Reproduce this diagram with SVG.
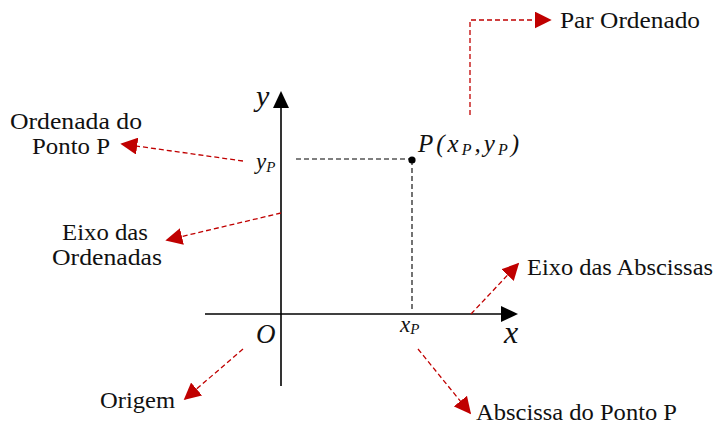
<svg xmlns="http://www.w3.org/2000/svg" width="717" height="428" viewBox="0 0 717 428">
<style>
.lbl{font-family:"Liberation Serif","Times New Roman",serif;font-size:23px;fill:#111}
.m{font-family:"Liberation Serif","Times New Roman",serif;font-style:italic;fill:#111}
.red{stroke:#c00000;stroke-width:1.3;stroke-dasharray:5,3;fill:none}
.ax{stroke:#000;stroke-width:1.6;fill:none}
.guide{stroke:#000;stroke-width:1.1;stroke-dasharray:5,3;fill:none}
</style>
<defs>
<marker id="ra" viewBox="0 0 10 10" refX="9" refY="5" markerWidth="17" markerHeight="17" markerUnits="userSpaceOnUse" orient="auto">
<path d="M0,0 L10,5 L0,10 z" fill="#c00000"/>
</marker>
</defs>
<g id="axes">
<line class="ax" x1="281" y1="386" x2="281" y2="106"/>
<polygon points="281,91 273,108 289,108" fill="#000"/>
<line class="ax" x1="205" y1="314" x2="503" y2="314"/>
<polygon points="518,314 501,306 501,322" fill="#000"/>
<line class="guide" x1="296" y1="159" x2="412" y2="159"/>
<line class="guide" x1="412" y1="160" x2="412" y2="312"/>
<circle cx="412" cy="160" r="3.6" fill="#000"/>
</g>
<g id="math-labels">
<text class="m" x="256" y="106" font-size="30">y</text>
<text class="m" x="256" y="169" font-size="23">y<tspan font-size="15" dy="3">P</tspan></text>
<text class="m" x="418" y="152" font-size="25" textLength="101" lengthAdjust="spacing">P(x<tspan font-size="16" dy="3">P</tspan><tspan dy="-3">,y</tspan><tspan font-size="16" dy="3">P</tspan><tspan dy="-3">)</tspan></text>
<text class="m" x="256" y="343" font-size="27">O</text>
<text class="m" x="400" y="332" font-size="23">x<tspan font-size="15" dy="2">P</tspan></text>
<text class="m" x="504" y="343" font-size="32">x</text>
</g>
<g id="connectors">
<polyline class="red" points="470,115 470,20 550,20" marker-end="url(#ra)"/>
<line class="red" x1="243" y1="161" x2="122" y2="144" marker-end="url(#ra)"/>
<line class="red" x1="281" y1="213" x2="167" y2="240" marker-end="url(#ra)"/>
<line class="red" x1="243" y1="349" x2="185" y2="399" marker-end="url(#ra)"/>
<line class="red" x1="471" y1="314" x2="518" y2="264" marker-end="url(#ra)"/>
<line class="red" x1="418" y1="349" x2="470" y2="413" marker-end="url(#ra)"/>
</g>
<g id="n-par"><text class="lbl" x="560" y="28" textLength="140" lengthAdjust="spacingAndGlyphs">Par Ordenado</text></g>
<g id="n-ordenada"><text class="lbl" x="10" y="129" textLength="132" lengthAdjust="spacingAndGlyphs">Ordenada do</text><text class="lbl" x="32" y="154" textLength="78" lengthAdjust="spacingAndGlyphs">Ponto P</text></g>
<g id="n-eixo-ord"><text class="lbl" x="62" y="240" textLength="86" lengthAdjust="spacingAndGlyphs">Eixo das</text><text class="lbl" x="52" y="265" textLength="110" lengthAdjust="spacingAndGlyphs">Ordenadas</text></g>
<g id="n-origem"><text class="lbl" x="100" y="408" textLength="75" lengthAdjust="spacingAndGlyphs">Origem</text></g>
<g id="n-eixo-abs"><text class="lbl" x="527" y="275" textLength="186" lengthAdjust="spacingAndGlyphs">Eixo das Abscissas</text></g>
<g id="n-abscissa"><text class="lbl" x="476" y="420" textLength="201" lengthAdjust="spacingAndGlyphs">Abscissa do Ponto P</text></g>
</svg>
